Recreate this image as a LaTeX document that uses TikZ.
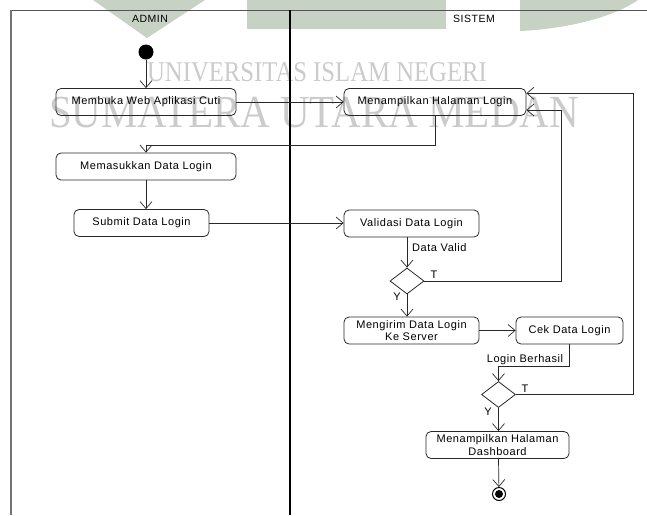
\documentclass[tikz,border=0pt]{standalone}
\usepackage{fontspec}
\setmainfont{Liberation Sans}
\newfontfamily\actfont[LetterSpace=5]{Liberation Sans}
\newfontfamily\wmfont{Liberation Serif}
\usetikzlibrary{arrows.meta,shapes.geometric,calc}
\definecolor{wmgreen}{RGB}{199,210,196}
\definecolor{wmgray}{RGB}{203,203,203}
\definecolor{ink}{RGB}{40,40,40}

\tikzset{
  act/.style={draw=ink, line width=0.8pt, rounded corners=5pt, align=center,
    inner sep=0pt, minimum height=27pt, font=\actfont\fontsize{11}{12.5}\selectfont},
  decision/.style={draw=ink, line width=0.8pt, diamond, aspect=1.3, inner sep=0pt,
    minimum width=34pt, minimum height=26pt},
  flow/.style={draw=ink, line width=0.7pt, -{Straight Barb[length=7pt,width=12pt]}},
  guard/.style={font=\actfont\fontsize{11}{12}\selectfont, inner sep=1pt},
  lane/.style={font=\actfont\fontsize{10.5}{12}\selectfont},
  watermark/.style={text=wmgray, inner sep=0pt, anchor=base, font=\wmfont}
}

\begin{document}
\begin{tikzpicture}[x=1pt,y=-1pt]
\useasboundingbox (0,0) rectangle (647,515);

% faint university watermark behind the diagram
\fill[wmgreen] (93,0) -- (205,0) -- (147,38) -- cycle;
\fill[wmgreen] (247,0) rectangle (446,29);
\fill[wmgreen] (520,0) -- (520,31) .. controls (565,29) and (612,18) .. (638,0) -- cycle;
\node[watermark, font=\wmfont\fontsize{26}{26}\selectfont, xscale=0.95, yscale=1.1] (wm1) at (317,81.5) {UNIVERSITAS ISLAM NEGERI};
\node[watermark, font=\wmfont\fontsize{41}{41}\selectfont, yscale=1.12] (wm2) at (314,127) {SUMATERA UTARA MEDAN};

% swimlane frame
\draw[ink!80, line width=0.9pt] (11,10) -- (647,10);
\draw[black!55, line width=1.4pt] (11,10) -- (11,515);
\draw[black, line width=1.4pt] (290,10) -- (290,515);
\node[lane] (laneA) at (150,19) {ADMIN};
\node[lane] (laneS) at (474,19) {SISTEM};

% start and end
\node[circle, fill=black, minimum size=15pt, inner sep=0pt] (start) at (146,52) {};
\node[circle, draw=black, line width=1pt, minimum size=13pt, inner sep=0pt,
  path picture={\fill[black] (path picture bounding box.center) circle (4pt);}] (fin) at (499,494) {};

% activities
\node[act, minimum width=180pt] (a1) at (146,102) {Membuka Web Aplikasi Cuti};
\node[act, minimum width=180pt] (a2) at (146,166.5) {Memasukkan Data Login};
\node[act, minimum width=135pt] (a3) at (141.5,223) {Submit Data Login};
\node[act, minimum width=182pt] (s1) at (435,102) {Menampilkan Halaman Login};
\node[act, minimum width=135pt] (s2) at (411.5,223.5) {Validasi Data Login};
\node[act, minimum width=135pt] (s3) at (411.5,330.5) {Mengirim Data Login\\Ke Server};
\node[act, minimum width=107pt] (s4) at (569.5,330.5) {Cek Data Login};
\node[act, minimum width=143pt] (s5) at (497.5,445) {Menampilkan Halaman\\Dashboard};

% decisions
\node[decision] (d1) at (407,281) {};
\node[decision] (d2) at (498.5,394.5) {};

% bends of the return paths
\coordinate (r1) at (561.7,281);
\coordinate (r2) at (633,394.5);

% flows
\draw[flow] (start) -- (a1);
\draw[flow] (a1.east) -- (a1.east -| s1.west);
\draw[flow] (s1.south) -- ++(0,29) -| (a2.north);
\draw[flow] (a2.south) -- (a2.south |- a3.north);
\draw[flow] (a3.east) -- (a3.east -| s2.west);
\draw[flow] (d1.north |- s2.south) -- (d1.north);
\draw[flow] (d1.east) -- (r1) |- ([yshift=-8pt]s1.east);
\draw[flow] (d1.south) -- (d1.south |- s3.north);
\draw[flow] (s3.east) -- (s4.west);
\draw[flow] (s4.south) -- ++(0,22.3) -| (d2.north);
\draw[flow] (d2.east) -- (r2) |- ([yshift=8.7pt]s1.east);
\draw[flow] (d2.south) -- (d2.south |- s5.north);
\draw[flow] (d2.south |- s5.south) -- (fin);

% guards
\node[guard, anchor=west] (gValid) at (411,248) {Data Valid};
\node[guard] (gT1) at (434,275) {T};
\node[guard] (gY1) at (397,297) {Y};
\node[guard] (gOk) at (525,360) {Login Berhasil};
\node[guard] (gT2) at (525,389) {T};
\node[guard] (gY2) at (488,412) {Y};
\end{tikzpicture}
\end{document}
